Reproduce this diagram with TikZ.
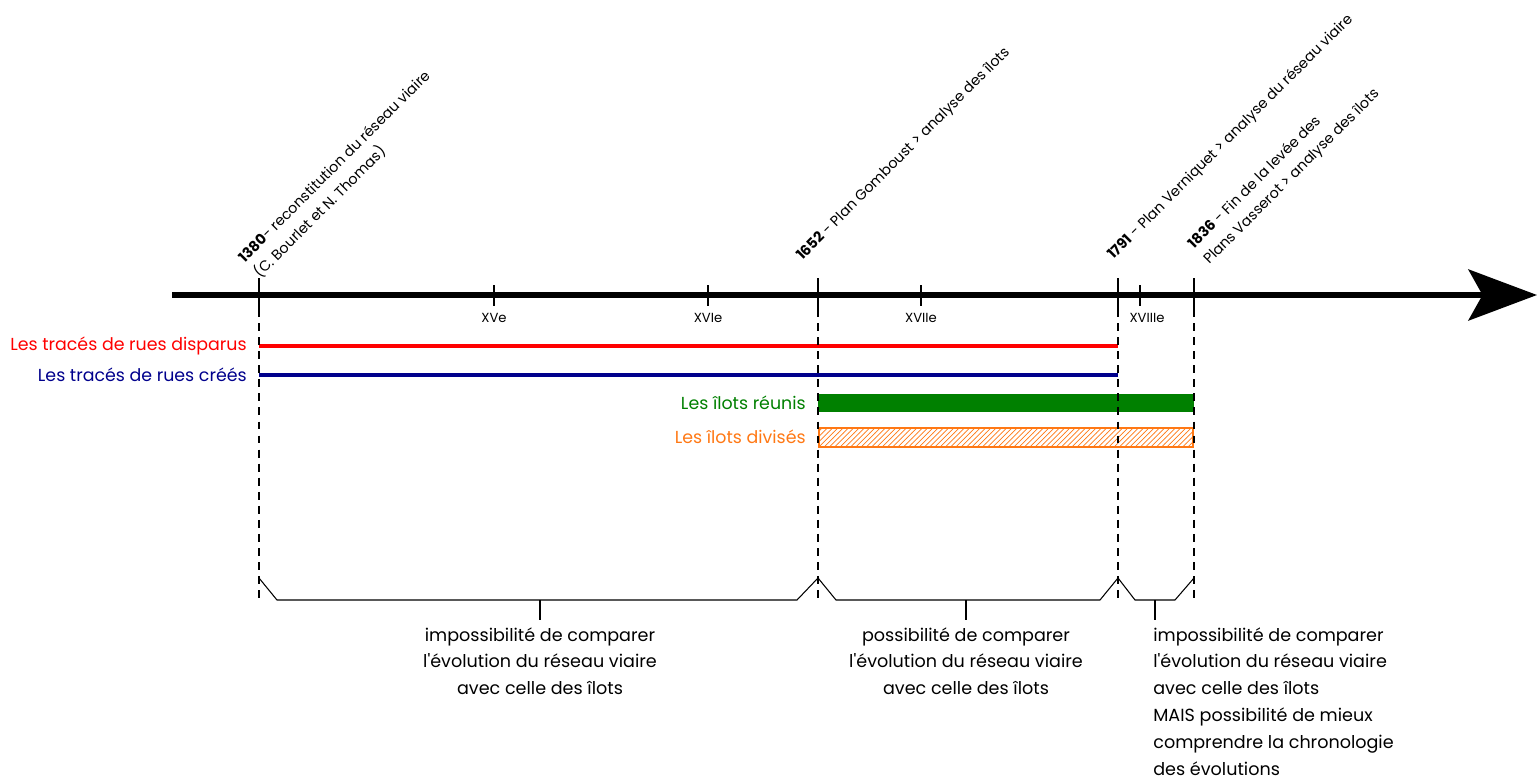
\documentclass[tikz,border=0pt]{standalone}
\usepackage{fontspec}
\setmainfont{Poppins}
\usetikzlibrary{arrows.meta,patterns,positioning,calc}

\definecolor{rouge}{RGB}{255,0,0}
\definecolor{marine}{RGB}{0,0,140}
\definecolor{vert}{RGB}{0,128,0}
\definecolor{orange}{RGB}{255,120,20}

\tikzset{
  axe/.style={line width=3.4pt, -{Stealth[length=39pt,width=29pt,inset=8pt]}},
  majeur/.style={line width=1.5pt},
  mineur/.style={line width=1pt},
  repere/.style={dashed, line width=0.7pt, dash pattern=on 4.5pt off 3.5pt},
  siecle/.style={font=\fontsize{7.5}{8}\selectfont, inner sep=0pt},
  date/.style={rotate=45, anchor=south west, align=left, inner sep=0pt,
    font=\fontsize{8.2}{12.5}\selectfont},
  legende/.style={anchor=east, inner sep=0pt, font=\fontsize{9.9}{11}\selectfont},
  trait/.style={line width=2.8pt},
  accolade/.style={line width=0.6pt},
  bilan/.style={align=center, anchor=north, inner sep=0pt,
    font=\fontsize{10}{15.3}\selectfont},
}

\begin{document}
\begin{tikzpicture}[x=0.02cm, y=-0.02cm]
\useasboundingbox (0,0) rectangle (1539,781);

% reperes sur l'axe
\coordinate (a1380) at (259,295);
\coordinate (a1652) at (818,295);
\coordinate (a1791) at (1118,295);
\coordinate (a1836) at (1194,295);
\coordinate (haut) at (0,578);
\coordinate (bas) at (0,600);
\coordinate (debut) at (172,295);
\coordinate (fin) at (1537,295);

% axe du temps
\draw[axe] (debut) -- (fin);
\foreach \a in {a1380,a1652,a1791,a1836}
  \draw[majeur] ($(\a)+(0,-17)$) -- ($(\a)+(0,17)$);
\foreach \x in {494,708,921,1140}
  \draw[mineur] (\x,285) -- (\x,306);

% siecles
\node[siecle] (s15) at (494,318) {XVe};
\node[siecle] (s16) at (708,318) {XVIe};
\node[siecle] (s17) at (921,318) {XVIIe};
\node[siecle] (s18) at (1147,318) {XVIIIe};

% dates
\node[date] (d1380) at (262,281) {\textbf{1380}- reconstitution du réseau viaire\\(C. Bourlet et N. Thomas)};
\node[date] (d1652) at (805,264) {\textbf{1652} - Plan Gomboust > analyse des îlots};
\node[date] (d1791) at (1116,263) {\textbf{1791} - Plan Verniquet > analyse du réseau viaire};
\node[date] (d1836) at (1212,268) {\textbf{1836} - Fin de la levée des\\Plans Vasserot > analyse des îlots};

% legendes et periodes
\node[legende, text=rouge] (ldisp) at (247,346) {Les tracés de rues disparus};
\node[legende, text=marine] (lcrees) at (247,375) {Les tracés de rues créés};
\node[legende, text=vert] (lreunis) at (806,403) {Les îlots réunis};
\node[legende, text=orange] (ldivises) at (806,437) {Les îlots divisés};

\draw[trait, rouge] (a1380 |- ldisp) -- (a1791 |- ldisp);
\draw[trait, marine] (a1380 |- lcrees) -- (a1791 |- lcrees);
\fill[vert] (818,394) rectangle (1194,412);
\draw[line width=1.5pt, orange, pattern=north east lines, pattern color=orange]
  (819,428) rectangle (1193,447);

% lignes de rappel
\foreach \a in {a1380,a1652,a1791,a1836}
  \draw[repere] (\a) -- (\a |- bas);

% accolades
\draw[accolade] (a1380 |- haut) -- ($(a1380 |- bas)+(18,0)$) -- ($(a1652 |- bas)+(-21,0)$) -- (a1652 |- haut);
\draw[accolade] (a1652 |- haut) -- ($(a1652 |- bas)+(18,0)$) -- ($(a1791 |- bas)+(-18,0)$) -- (a1791 |- haut);
\draw[accolade] (a1791 |- haut) -- ($(a1791 |- bas)+(17,0)$) -- ($(a1836 |- bas)+(-19,0)$) -- (a1836 |- haut);

% bilans
\node[bilan] (b1) at (540,627) {impossibilité de comparer\\l\textquotesingle évolution du réseau viaire\\avec celle des îlots};
\node[bilan] (b2) at (966,627) {possibilité de comparer\\l\textquotesingle évolution du réseau viaire\\avec celle des îlots};
\node[bilan, align=left, anchor=north west] (b3) at (1153,627) {impossibilité de comparer\\l\textquotesingle évolution du réseau viaire\\avec celle des îlots\\MAIS possibilité de mieux\\comprendre la chronologie\\des évolutions};

\draw[accolade] (b1.north |- bas) -- ($(b1.north)+(0,-7)$);
\draw[accolade] (b2.north |- bas) -- ($(b2.north)+(0,-7)$);
\draw[accolade] (1155,600) -- ($(b3.north west)+(2,-7)$);
\end{tikzpicture}
\end{document}
